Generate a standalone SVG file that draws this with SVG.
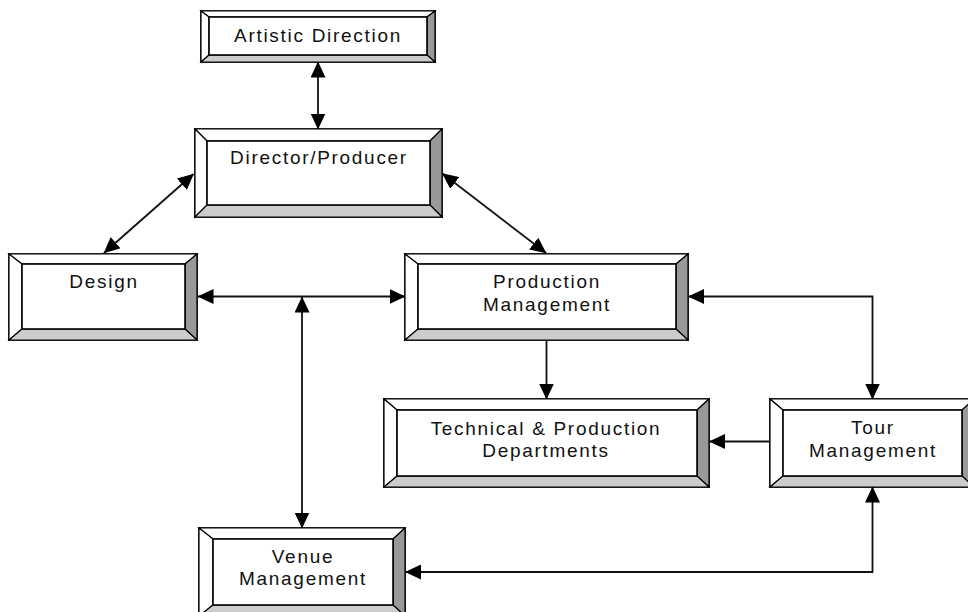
<svg xmlns="http://www.w3.org/2000/svg" width="968" height="612" viewBox="0 0 968 612">
<style>
.o{fill:#fff;stroke:#000;stroke-width:1.6}
.w{fill:#fff;stroke:#000;stroke-width:1.2}
.d{fill:#999;stroke:#000;stroke-width:1.2}
.l{fill:#ccc;stroke:#000;stroke-width:1.2}
.t{font-family:"Liberation Sans",Arial,sans-serif;font-size:19px;letter-spacing:1.7px;fill:#111;text-anchor:middle}
.c{fill:none;stroke:#111;stroke-width:1.8}
</style>
<defs>
<marker id="a" markerUnits="userSpaceOnUse" markerWidth="16" markerHeight="15" refX="15.5" refY="7.5" orient="auto-start-reverse" viewBox="0 0 16 15">
<path d="M0,0 L16,7.5 L0,15 z" fill="#000"/>
</marker>
</defs>
<rect width="968" height="612" fill="#fff"/>
<g id="connectors">
<line class="c" x1="318" y1="62" x2="318" y2="129" marker-start="url(#a)" marker-end="url(#a)"/>
<line class="c" x1="193.5" y1="174" x2="104" y2="253" marker-start="url(#a)" marker-end="url(#a)"/>
<line class="c" x1="442.5" y1="173.5" x2="546" y2="253" marker-start="url(#a)" marker-end="url(#a)"/>
<line class="c" x1="198" y1="296.5" x2="405" y2="296.5" marker-start="url(#a)" marker-end="url(#a)"/>
<line class="c" x1="302" y1="297" x2="302" y2="528" marker-start="url(#a)" marker-end="url(#a)"/>
<line class="c" x1="546.5" y1="340" x2="546.5" y2="399" marker-end="url(#a)"/>
<polyline class="c" points="688.5,296.5 872.5,296.5 872.5,399" marker-start="url(#a)" marker-end="url(#a)"/>
<line class="c" x1="770" y1="441.5" x2="709.5" y2="441.5" marker-end="url(#a)"/>
<polyline class="c" points="872.5,487 872.5,572 405.5,572" marker-start="url(#a)" marker-end="url(#a)"/>
</g>
<g id="artistic-direction">
<rect class="o" x="201" y="11" width="234" height="51"/>
<polygon class="w" points="201,11 435,11 427,17 209,17"/>
<polygon class="w" points="201,11 209,17 209,55 201,62"/>
<polygon class="d" points="435,11 435,62 427,55 427,17"/>
<polygon class="l" points="201,62 209,55 427,55 435,62"/>
<rect class="o" x="209" y="17" width="218" height="38"/>
<text class="t" x="318" y="41.5">Artistic Direction</text>
</g>
<g id="director-producer">
<rect class="o" x="195" y="129" width="247" height="88"/>
<polygon class="w" points="195,129 442,129 430,141 207,141"/>
<polygon class="w" points="195,129 207,141 207,205 195,217"/>
<polygon class="d" points="442,129 442,217 430,205 430,141"/>
<polygon class="l" points="195,217 207,205 430,205 442,217"/>
<rect class="o" x="207" y="141" width="223" height="64"/>
<text class="t" x="319" y="164.3">Director/Producer</text>
</g>
<g id="design">
<rect class="o" x="9" y="254" width="188" height="86"/>
<polygon class="w" points="9,254 197,254 185,264 22,264"/>
<polygon class="w" points="9,254 22,264 22,329 9,340"/>
<polygon class="d" points="197,254 197,340 185,329 185,264"/>
<polygon class="l" points="9,340 22,329 185,329 197,340"/>
<rect class="o" x="22" y="264" width="163" height="65"/>
<text class="t" x="104" y="288.3">Design</text>
</g>
<g id="production-management">
<rect class="o" x="405" y="254" width="283" height="86"/>
<polygon class="w" points="405,254 688,254 676,264 418,264"/>
<polygon class="w" points="405,254 418,264 418,329 405,340"/>
<polygon class="d" points="688,254 688,340 676,329 676,264"/>
<polygon class="l" points="405,340 418,329 676,329 688,340"/>
<rect class="o" x="418" y="264" width="258" height="65"/>
<text class="t" x="547" y="288.3">Production</text>
<text class="t" x="547" y="310.7">Management</text>
</g>
<g id="technical-production-departments">
<rect class="o" x="384" y="399" width="325" height="88"/>
<polygon class="w" points="384,399 709,399 697,410 397,410"/>
<polygon class="w" points="384,399 397,410 397,476 384,487"/>
<polygon class="d" points="709,399 709,487 697,476 697,410"/>
<polygon class="l" points="384,487 397,476 697,476 709,487"/>
<rect class="o" x="397" y="410" width="300" height="66"/>
<text class="t" x="546" y="434.5">Technical &amp; Production</text>
<text class="t" x="546" y="456.7">Departments</text>
</g>
<g id="tour-management">
<rect class="o" x="770" y="399" width="204" height="88"/>
<polygon class="w" points="770,399 974,399 962,410 783,410"/>
<polygon class="w" points="770,399 783,410 783,476 770,487"/>
<polygon class="d" points="974,399 974,487 962,476 962,410"/>
<polygon class="l" points="770,487 783,476 962,476 974,487"/>
<rect class="o" x="783" y="410" width="179" height="66"/>
<text class="t" x="873" y="433.8">Tour</text>
<text class="t" x="873" y="456.7">Management</text>
</g>
<g id="venue-management">
<rect class="o" x="199" y="528" width="206" height="88"/>
<polygon class="w" points="199,528 405,528 393,539 213,539"/>
<polygon class="w" points="199,528 213,539 213,605 199,616"/>
<polygon class="d" points="405,528 405,616 393,605 393,539"/>
<polygon class="l" points="199,616 213,605 393,605 405,616"/>
<rect class="o" x="213" y="539" width="180" height="66"/>
<text class="t" x="303" y="563.3">Venue</text>
<text class="t" x="303" y="585">Management</text>
</g>
</svg>
